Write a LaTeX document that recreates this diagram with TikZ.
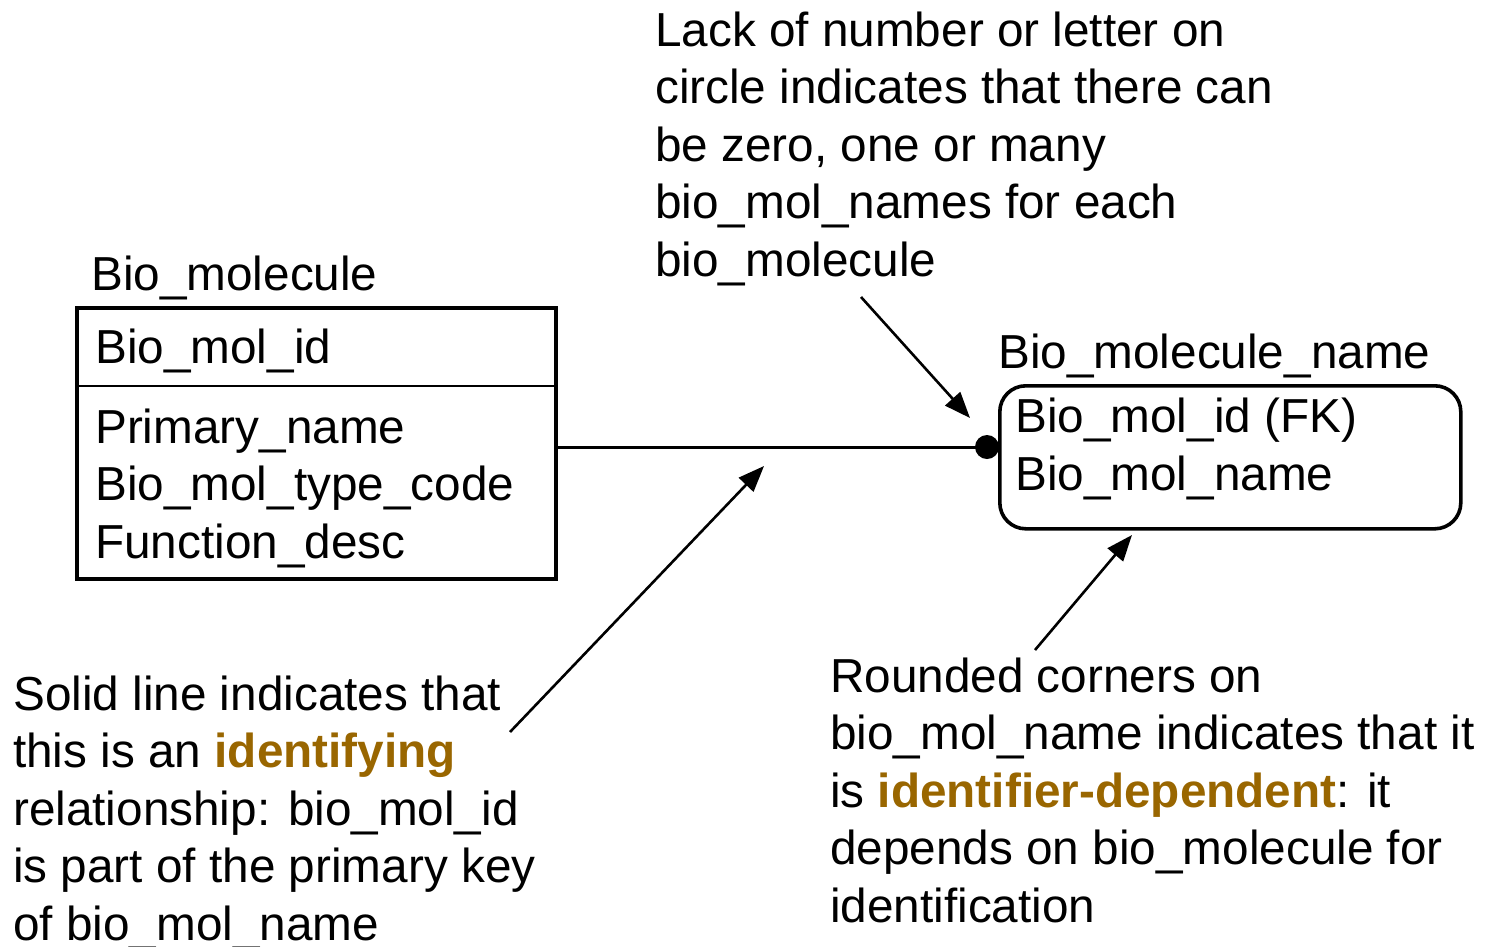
\documentclass[tikz,border=0pt]{standalone}
\usepackage{fontspec}
\setmainfont{Liberation Sans}
\usetikzlibrary{arrows.meta}
\definecolor{idcol}{RGB}{153,102,0}
\tikzset{
  txt/.style={anchor=base west, inner sep=0pt, align=left, font=\fontsize{47.7}{57.5}\selectfont},
  entbox/.style={draw, line width=3.6pt},
  pointer/.style={line width=2.6pt, -{Triangle[length=26pt,width=20pt]}},
}
\newcommand{\hlt}[1]{\textcolor{idcol}{\bfseries #1}}
\begin{document}
\begin{tikzpicture}[x=1pt,y=-1pt]
\useasboundingbox (0,0) rectangle (1488,946);
% entity 1
\node[txt] (t1) at (91,290) {Bio\_molecule};
\node[entbox, minimum width=479pt, minimum height=271pt, anchor=north west, inner sep=0pt] (e1) at (75,306) {};
\draw[line width=2.6pt] (75,386) -- (554,386);
\node[txt] (a1) at (95,363) {Bio\_mol\_id};
\node[txt] (a2) at (95,558) {Primary\_name\\Bio\_mol\_type\_code\\Function\_desc};
% entity 2
\node[txt] (t2) at (998,368) {Bio\_molecule\_name};
\node[entbox, rounded corners=26pt, minimum width=461pt, minimum height=143pt, anchor=north west, inner sep=0pt] (e2) at (998,384) {};
\node[txt] (b1) at (1015,490) {Bio\_mol\_id (FK)\\Bio\_mol\_name};
% relationship
\coordinate (dot) at (987,447);
\draw[line width=3pt] (e1.east |- dot) -- (dot);
\fill (dot) circle (12pt);
% annotations
\node[txt] (n1) at (655,276) {Lack of number or letter on\\circle indicates that there can\\be zero, one or many\\bio\_mol\_names for each\\bio\_molecule};
\node[txt] (n2) at (13,940) {Solid line indicates that\\this is an \hlt{identifying}\\relationship: bio\_mol\_id\\is part of the primary key\\of bio\_mol\_name};
\node[txt] (n3) at (830,922) {Rounded corners on\\bio\_mol\_name indicates that it\\is \hlt{identifier-dependent}: it\\depends on bio\_molecule for\\identification};
\coordinate (p1s) at (861,297);
\coordinate (p1e) at (970,418);
\coordinate (p2s) at (510,732);
\coordinate (p2e) at (764,466);
\coordinate (p3s) at (1035,650);
\coordinate (p3e) at (1132,535);
\draw[pointer] (p1s) -- (p1e);
\draw[pointer] (p2s) -- (p2e);
\draw[pointer] (p3s) -- (p3e);
\end{tikzpicture}
\end{document}
